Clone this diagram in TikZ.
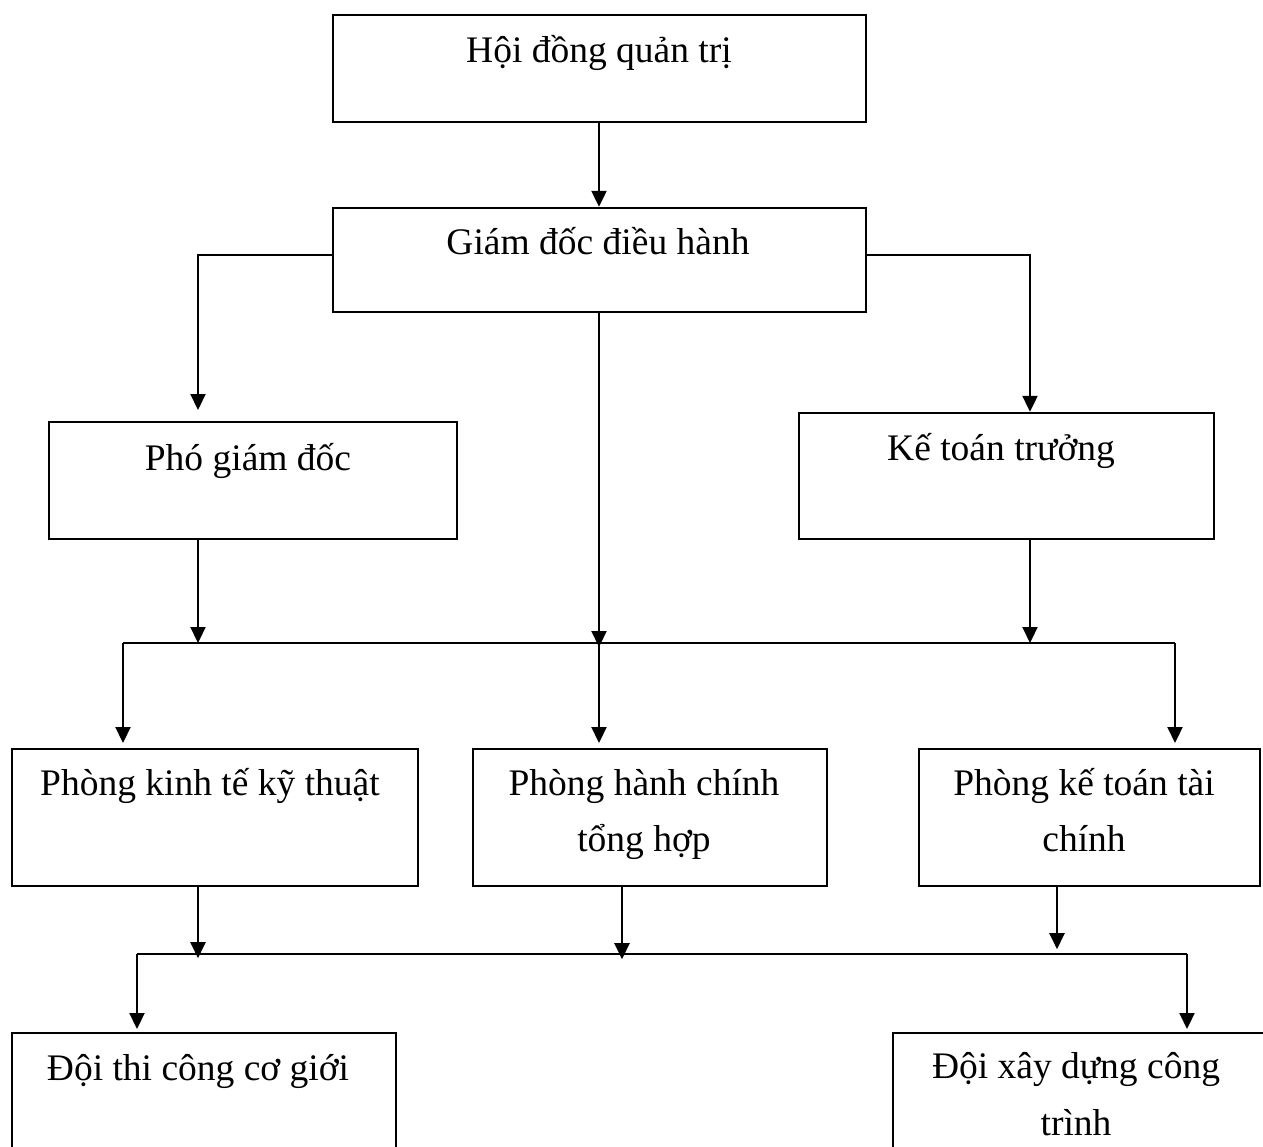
\documentclass[tikz,border=0pt]{standalone}
\usepackage{fontspec}
\setmainfont{Liberation Serif}
\usetikzlibrary{arrows.meta}

\begin{document}
\begin{tikzpicture}[x=1pt, y=-1pt,
    box/.style={draw, line width=2.4pt, inner sep=0pt},
    lbl/.style={anchor=base, inner sep=0pt, align=center,
                font=\fontsize{37.5}{56.5}\selectfont},
    link/.style={line width=2.2pt},
    arr/.style={line width=2.2pt, -{Triangle[length=16pt,width=15pt]}}]
  \useasboundingbox (0,0) rectangle (1263,1147);

  % boxes
  \node[box, minimum width=533pt, minimum height=107pt] (hdqt)  at (599.5,68.5) {};
  \node[box, minimum width=533pt, minimum height=104pt] (gddh)  at (599.5,260) {};
  \node[box, minimum width=408pt, minimum height=117pt] (pgd)   at (253,480.5) {};
  \node[box, minimum width=415pt, minimum height=126pt] (ktt)   at (1006.5,476) {};
  \node[box, minimum width=406pt, minimum height=137pt] (pktkt) at (215,817.5) {};
  \node[box, minimum width=354pt, minimum height=137pt] (phcth) at (650,817.5) {};
  \node[box, minimum width=341pt, minimum height=137pt] (pktc)  at (1089.5,817.5) {};
  \node[box, minimum width=384pt, minimum height=127pt] (dtcg)  at (204,1096.5) {};
  \node[box, minimum width=375pt, minimum height=127pt] (dxdct) at (1080.5,1096.5) {};

  % labels (two-line labels are placed by their last baseline)
  \node[lbl] (thdqt)  at (599,63)    {Hội đồng quản trị};
  \node[lbl] (tgddh)  at (598,255)   {Giám đốc điều hành};
  \node[lbl] (tpgd)   at (248,470)   {Phó giám đốc};
  \node[lbl] (tktt)   at (1001,460)  {Kế toán trưởng};
  \node[lbl] (tpktkt) at (210,795)   {Phòng kinh tế kỹ thuật};
  \node[lbl] (tphcth) at (644,851.5) {Phòng hành chính\\tổng hợp};
  \node[lbl] (tpktc)  at (1084,851.5) {Phòng kế toán tài\\chính};
  \node[lbl] (tdtcg)  at (198,1080)  {Đội thi công cơ giới};
  \node[lbl] (tdxdct) at (1076,1135) {Đội xây dựng công\\trình};

  % bus lines and free ends
  \coordinate (bus1L) at (123,643);
  \coordinate (bus1R) at (1175,643);
  \coordinate (bus2L) at (137,954);
  \coordinate (bus2R) at (1187,954);
  \coordinate (pgdin) at (198,410);

  % top levels
  \draw[arr] ([xshift=-0.5pt]hdqt.south) -- ([xshift=-0.5pt]gddh.north);
  \draw[arr] ([yshift=5pt]gddh.west) -| (pgdin);
  \draw[arr] ([yshift=5pt]gddh.east) -| ([xshift=23.5pt]ktt.north);

  % into the first bus
  \draw[arr] ([xshift=-55pt]pgd.south) -- ([xshift=-55pt]pgd.south |- bus1L);
  \draw[arr] ([xshift=-0.5pt]gddh.south) -- ([xshift=-0.5pt,yshift=-4pt]gddh.south |- bus1L);
  \draw[arr] ([xshift=23.5pt]ktt.south) -- ([xshift=23.5pt]ktt.south |- bus1L);

  % first bus to departments
  \draw[link] (bus1L) -- (bus1R);
  \draw[arr] (bus1L) -- ++(0,100);
  \draw[arr] ([xshift=-0.5pt]gddh.south |- bus1L) -- ++(0,100);
  \draw[arr] (bus1R) -- ++(0,100);

  % into the second bus
  \draw[arr] ([xshift=-17pt]pktkt.south) -- ++(0,71);
  \draw[arr] ([xshift=-28pt]phcth.south) -- ++(0,72);
  \draw[arr] ([xshift=-32.5pt]pktc.south) -- ++(0,62);

  % second bus to teams
  \draw[link] (bus2L) -- (bus2R);
  \draw[arr] (bus2L) -- ++(0,75);
  \draw[arr] (bus2R) -- ++(0,75);
\end{tikzpicture}
\end{document}
